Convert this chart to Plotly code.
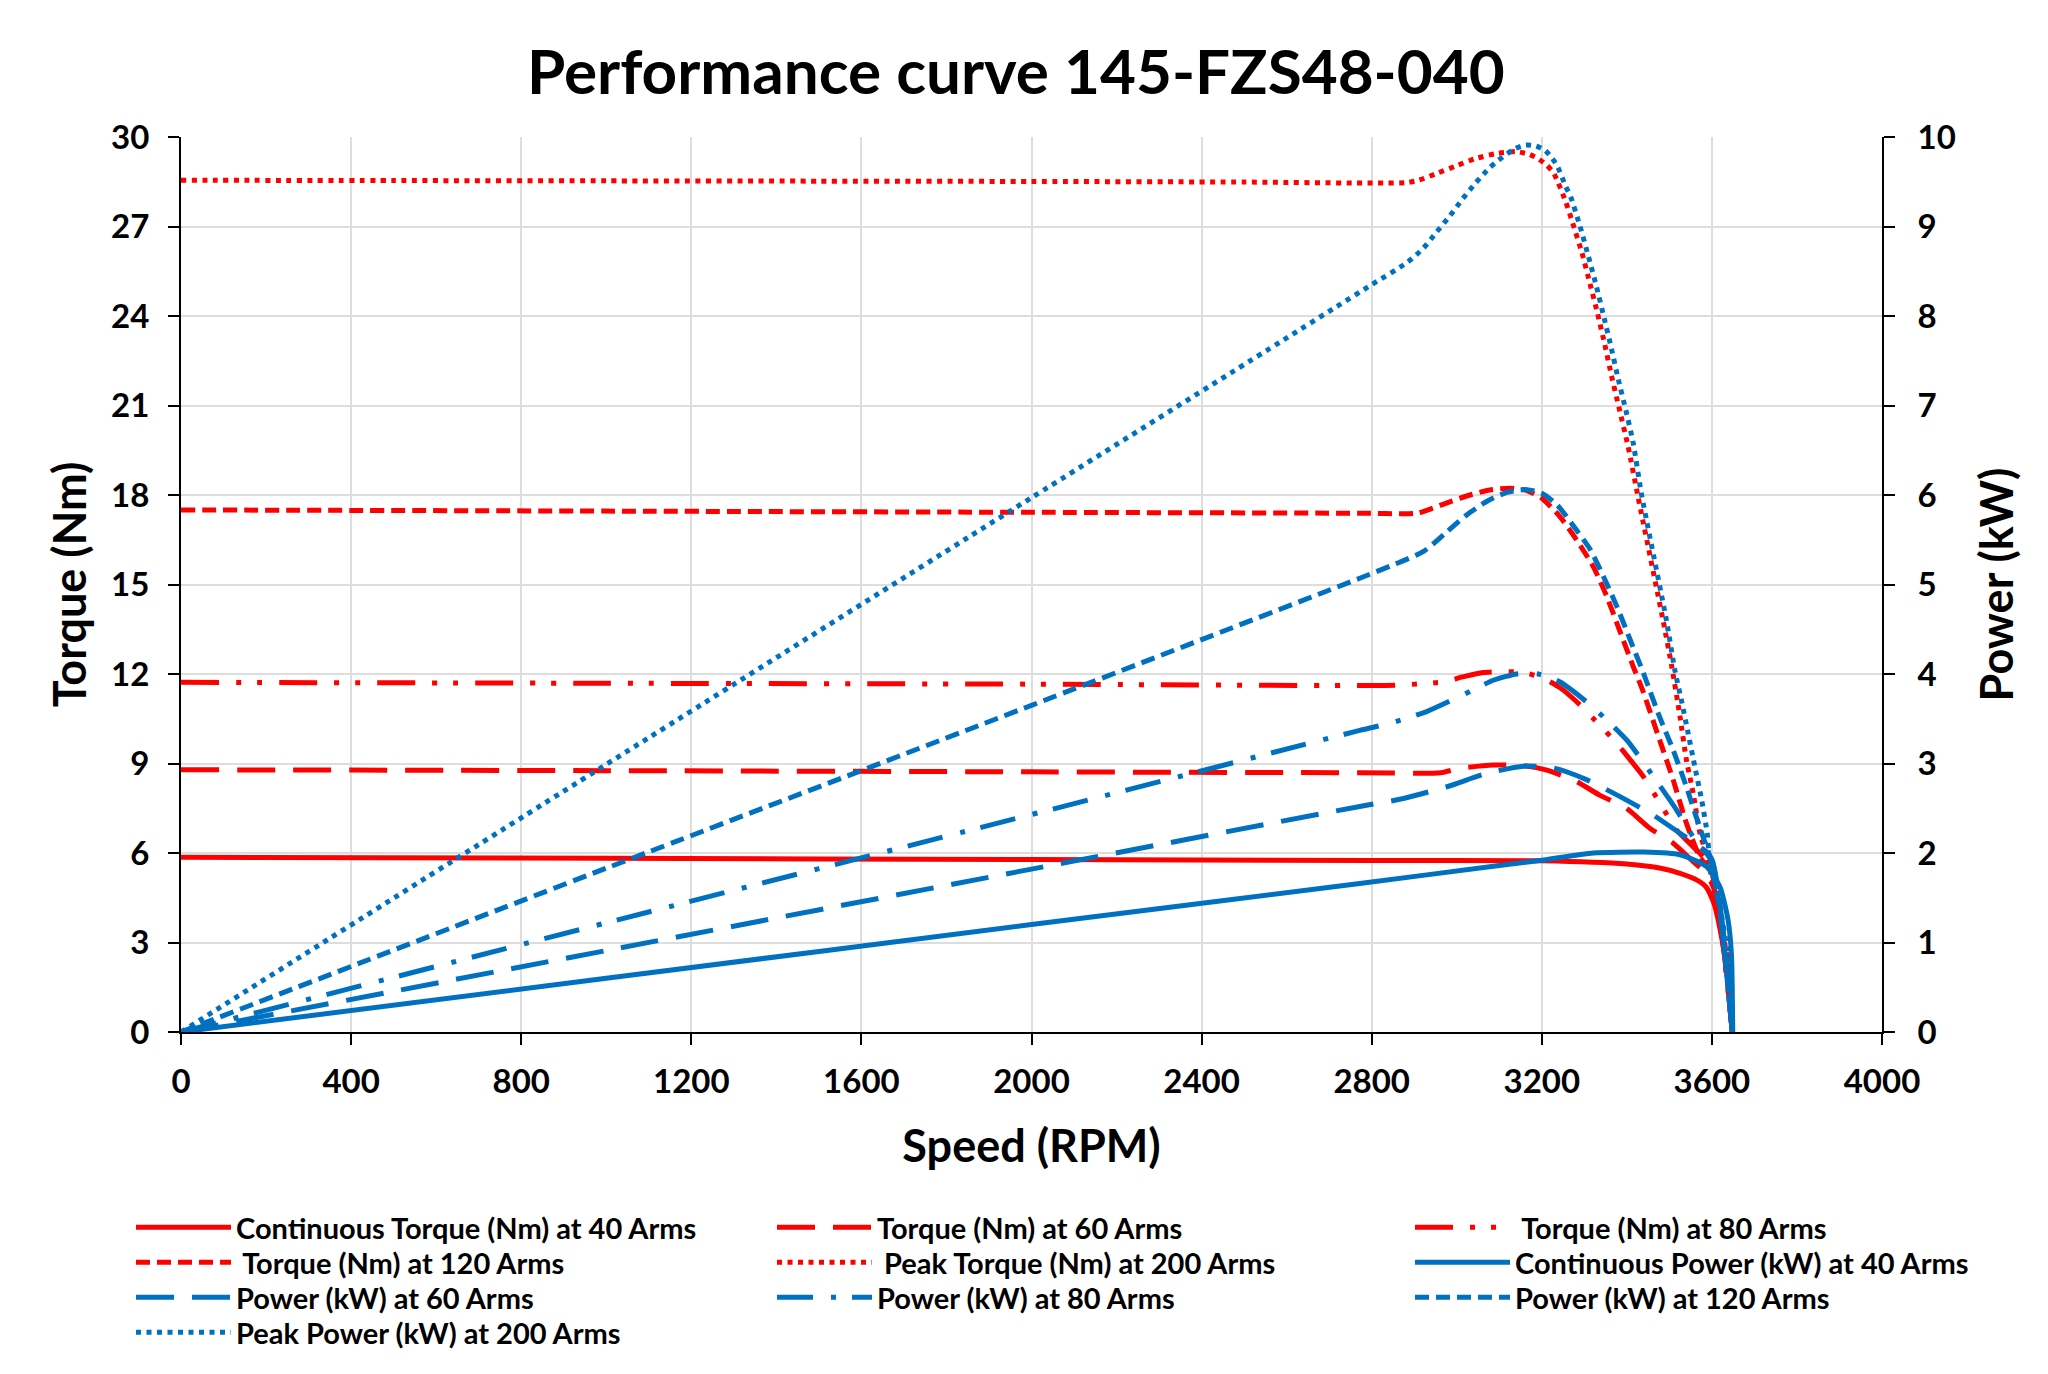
import plotly.graph_objects as go

RED = "#FF0000"
BLUE = "#0070C0"

# values (speed in RPM, torque in Nm, power in kW)

# continuous, 40 Arms
cont_torque_rpm = [0, 1000, 2000, 2800, 3200, 3400, 3480, 3525, 3564, 3587, 3605, 3625, 3640, 3648]
cont_torque = [5.86, 5.82, 5.78, 5.75, 5.74, 5.63, 5.49, 5.32, 5.10, 4.85, 4.30, 3.00, 1.50, 0]
cont_power_rpm = [0, 1000, 2000, 2772, 3100, 3200, 3321, 3440, 3525, 3587, 3619, 3638, 3646, 3649]
cont_power = [0, 0.60, 1.20, 1.66, 1.86, 1.92, 2.00, 2.01, 1.98, 1.85, 1.62, 1.25, 0.86, 0]

# 60 Arms
t60_rpm = [0, 1000, 2000, 2772, 2962, 3008, 3086, 3157, 3212, 3282, 3336, 3399, 3454, 3509, 3556, 3587, 3610, 3630, 3648]
t60 = [8.79, 8.76, 8.72, 8.69, 8.69, 8.84, 8.95, 8.93, 8.78, 8.39, 7.94, 7.50, 6.83, 6.33, 5.71, 5.32, 4.60, 2.50, 0]
p60_rpm = [0, 1000, 2000, 2772, 2866, 2977, 3071, 3157, 3227, 3305, 3384, 3463, 3525, 3572, 3600, 3625, 3648]
p60 = [0, 0.91, 1.82, 2.52, 2.60, 2.74, 2.89, 2.97, 2.95, 2.82, 2.63, 2.42, 2.22, 2.07, 1.93, 1.20, 0]

# 80 Arms
t80_rpm = [0, 1000, 2000, 2862, 2969, 3016, 3062, 3110, 3156, 3200, 3243, 3282, 3336, 3376, 3407, 3439, 3478, 3517, 3556, 3600, 3625, 3648]
t80 = [11.72, 11.69, 11.66, 11.63, 11.74, 11.91, 12.05, 12.08, 12.05, 11.88, 11.54, 11.07, 10.29, 9.68, 9.14, 8.56, 7.67, 6.77, 6.21, 5.50, 3.10, 0]
p80_rpm = [0, 1000, 2000, 2772, 2843, 2929, 3016, 3086, 3141, 3191, 3243, 3305, 3345, 3400, 3463, 3517, 3556, 3600, 3625, 3648]
p80 = [0, 1.22, 2.43, 3.37, 3.45, 3.58, 3.77, 3.93, 4.00, 4.00, 3.91, 3.69, 3.52, 3.26, 2.85, 2.48, 2.18, 1.90, 1.10, 0]

# 120 Arms
t120_rpm = [0, 1000, 2000, 2772, 2907, 2938, 2985, 3031, 3078, 3125, 3165, 3200, 3243, 3282, 3321, 3353, 3384, 3415, 3437, 3477, 3509, 3540, 3571, 3600, 3625, 3648]
t120 = [17.50, 17.46, 17.42, 17.39, 17.39, 17.53, 17.78, 18.00, 18.17, 18.23, 18.15, 17.89, 17.27, 16.49, 15.60, 14.59, 13.42, 12.25, 11.46, 9.79, 8.45, 7.00, 5.88, 5.30, 3.20, 0]
p120_rpm = [0, 1000, 2000, 2772, 2851, 2922, 2977, 3024, 3071, 3118, 3165, 3200, 3236, 3275, 3314, 3345, 3377, 3408, 3439, 3477, 3509, 3540, 3571, 3595, 3620, 3648]
p120 = [0, 1.83, 3.65, 5.07, 5.22, 5.37, 5.59, 5.78, 5.93, 6.03, 6.06, 6.02, 5.89, 5.65, 5.39, 5.09, 4.75, 4.38, 4.01, 3.52, 3.15, 2.74, 2.29, 1.96, 1.30, 0]

# peak, 200 Arms
peak_torque_rpm = [0, 500, 1000, 1500, 2000, 2500, 2880, 2910, 2955, 3000, 3045, 3095, 3140, 3170, 3192, 3212,
                   3228, 3256, 3272, 3294, 3313, 3331, 3348, 3364, 3381, 3403, 3427, 3485, 3505, 3525, 3540,
                   3556, 3572, 3591, 3611, 3634, 3648]
peak_torque = [28.55, 28.54, 28.53, 28.52, 28.51, 28.49, 28.47, 28.55, 28.79, 29.04, 29.28, 29.45, 29.51, 29.42,
               29.27, 29.05, 28.79, 27.84, 27.14, 26.14, 25.10, 24.09, 23.05, 21.99, 20.96, 19.62, 17.89, 13.81,
               12.30, 10.57, 9.12, 8.00, 6.66, 5.77, 4.32, 2.65, 0]
peak_power_rpm = [0, 1000, 2000, 2632, 2716, 2800, 2884, 2922, 2953, 2984, 3014, 3045, 3078, 3098, 3137, 3162,
                  3186, 3208, 3225, 3238, 3256, 3268, 3290, 3310, 3329, 3347, 3364, 3380, 3398, 3415, 3434, 3493,
                  3513, 3529, 3544, 3560, 3576, 3589, 3595, 3615, 3636, 3648]
peak_power = [0, 2.99, 5.97, 7.85, 8.10, 8.35, 8.60, 8.76, 8.94, 9.12, 9.31, 9.49, 9.66, 9.74, 9.87, 9.91, 9.90,
              9.85, 9.76, 9.66, 9.45, 9.33, 9.00, 8.66, 8.32, 7.97, 7.63, 7.29, 6.94, 6.58, 6.02, 4.60, 4.04, 3.69,
              3.34, 2.96, 2.59, 2.22, 1.92, 1.50, 0.90, 0]

torque_ticks = list(range(0, 31, 3))
power_ticks = list(range(0, 11))
speed_ticks = list(range(0, 4001, 400))

# line styles (Excel-like dash patterns)
LONG_DASH = "38px,18px"
LONG_DASH_DOT_DOT = "38px,17px,5px,16px,5px,17px"
LONG_DASH_DOT = "36px,18px,5px,16px"
DASH = "14px,7px"
DOT = "5px,5.5px"

series = [
    ("Continuous Torque (Nm) at 40 Arms", cont_torque_rpm, cont_torque, RED, "solid", "y"),
    ("Torque (Nm) at 60 Arms", t60_rpm, t60, RED, LONG_DASH, "y"),
    ("\u00a0Torque (Nm) at 80 Arms", t80_rpm, t80, RED, LONG_DASH_DOT_DOT, "y"),
    ("\u00a0Torque (Nm) at 120 Arms", t120_rpm, t120, RED, DASH, "y"),
    ("\u00a0Peak Torque (Nm) at 200 Arms", peak_torque_rpm, peak_torque, RED, DOT, "y"),
    ("Continuous Power (kW) at 40 Arms", cont_power_rpm, cont_power, BLUE, "solid", "y2"),
    ("Power (kW) at 60 Arms", p60_rpm, p60, BLUE, LONG_DASH, "y2"),
    ("Power (kW) at 80 Arms", p80_rpm, p80, BLUE, LONG_DASH_DOT, "y2"),
    ("Power (kW) at 120 Arms", p120_rpm, p120, BLUE, DASH, "y2"),
    ("Peak Power (kW) at 200 Arms", peak_power_rpm, peak_power, BLUE, DOT, "y2"),
]

# plot area in pixels (used to place the legend grid below it)
L, R, T, B = 181, 166, 137, 342
W, H = 2048, 1374
plot_w, plot_h = W - L - R, H - T - B
legend_cols_px = [131, 772, 1410]
legend_rows_px = [1202, 1237, 1272, 1307]

fig = go.Figure()
legends = {}
for i, (name, xs, ys, color, dash, yax) in enumerate(series):
    key = "legend" if i == 0 else f"legend{i + 1}"
    fig.add_trace(go.Scatter(x=xs, y=ys, name=name, mode="lines", yaxis=yax, legend=key, showlegend=True,
                             line=dict(color=color, width=5, dash=dash, shape="spline", smoothing=0.6)))
    row, col = divmod(i, 3)
    legends[key] = dict(x=(legend_cols_px[col] - L) / plot_w, y=(H - B - legend_rows_px[row]) / plot_h,
                        xanchor="left", yanchor="top", bgcolor="rgba(0,0,0,0)", visible=True,
                        font=dict(size=29), itemwidth=95)

tick_style = dict(ticklen=11, tickwidth=2, tickcolor="black", zeroline=False)
axis_common = dict(showline=True, linecolor="black", linewidth=2, ticks="outside",
                   tickfont=dict(size=33), **tick_style)
# extra label-less axes drawing the inner half of the crossing tick marks
inner_ticks = dict(showline=False, showgrid=False, showticklabels=False, ticks="inside", **tick_style)

fig.update_layout(
    width=W, height=H,
    margin=dict(l=L, r=R, t=T, b=B),
    showlegend=True,
    paper_bgcolor="white", plot_bgcolor="white",
    font=dict(family="Lato", size=29, color="black", weight="bold"),
    title=dict(text="Performance curve 145-FZS48-040", x=0.496, xanchor="center",
               y=1 - 72 / H, yanchor="middle", font=dict(size=62)),
    xaxis=dict(range=[0, 4000], tickvals=speed_ticks, showgrid=True, gridcolor="#DDDDDD", gridwidth=1.5,
               ticklabelstandoff=8,
               title=dict(text="Speed (RPM)\u00a0\u00a0\u00a0", font=dict(size=45), standoff=32), **axis_common),
    yaxis=dict(range=[0, 30], tickvals=torque_ticks, showgrid=True, gridcolor="#DDDDDD", gridwidth=1.5,
               ticklabelstandoff=12,
               title=dict(text="Torque (Nm)", font=dict(size=45), standoff=10), **axis_common),
    yaxis2=dict(range=[0, 10], tickvals=power_ticks, overlaying="y", side="right", showgrid=False,
                ticklabelstandoff=16,
                title=dict(text="Power (kW)", font=dict(size=45), standoff=27), **axis_common),
    xaxis2=dict(range=[0, 4000], tickvals=speed_ticks, overlaying="x", anchor="y", side="bottom", **inner_ticks),
    yaxis3=dict(range=[0, 30], tickvals=torque_ticks, overlaying="y", anchor="x", side="left", **inner_ticks),
    yaxis4=dict(range=[0, 10], tickvals=power_ticks, overlaying="y", anchor="x", side="right", **inner_ticks),
    **legends,
)

fig.write_html("out.html", config={"displayModeBar": False},
               post_script="document.body.style.margin='0';")
